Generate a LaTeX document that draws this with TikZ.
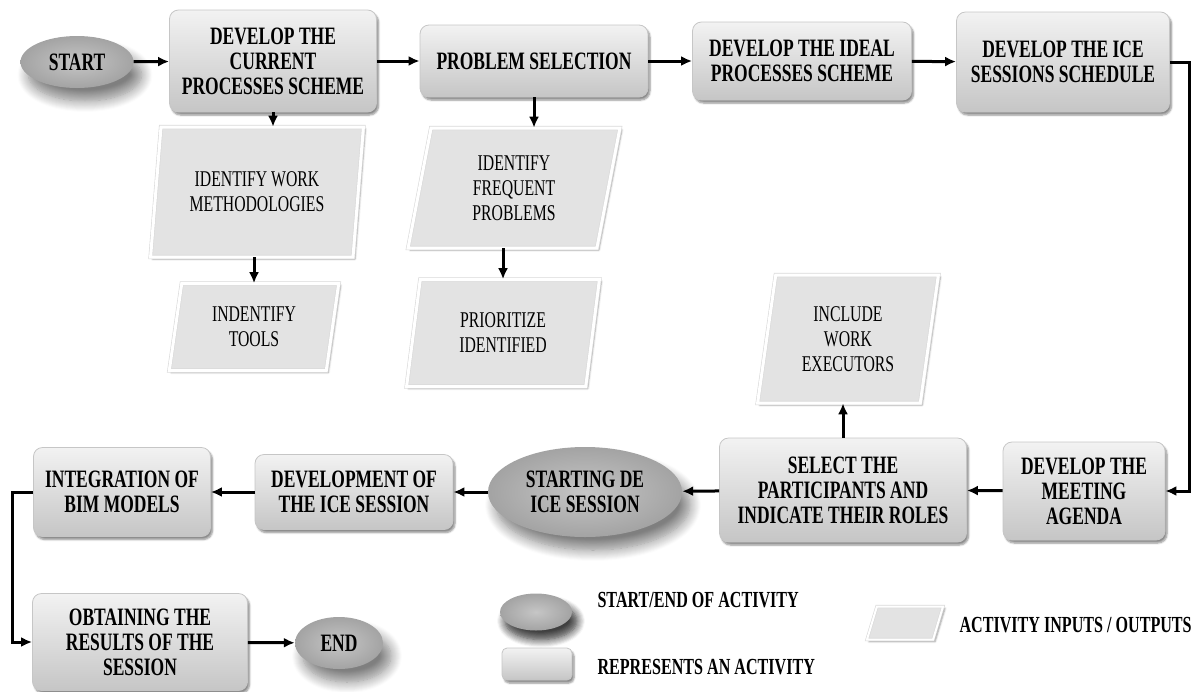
\documentclass[tikz,border=0pt]{standalone}
\usepackage{fontspec}
\setmainfont{Liberation Serif}[FakeStretch=0.70]
\usetikzlibrary{shapes.geometric,shadows,shadows.blur,arrows.meta}

\tikzset{
  activity/.style={rectangle,rounded corners=9pt,draw=gray!45,line width=.8pt,
    top color=gray!10,bottom color=gray!45,align=center,inner sep=2pt,
    font=\fontsize{25}{25}\selectfont\bfseries,
    blur shadow={shadow xshift=2pt,shadow yshift=-3pt,shadow blur steps=6,shadow opacity=45}},
  startend/.style={ellipse,inner color=gray!45,outer color=gray!72,align=center,inner sep=1pt,
    font=\fontsize{25}{25}\selectfont\bfseries,
    blur shadow={shadow xshift=8pt,shadow yshift=-13pt,shadow blur steps=12,shadow opacity=50,shadow blur radius=11pt}},
  inout/.style={trapezium,trapezium left angle=80,trapezium right angle=100,trapezium stretches=true,
    draw=gray!30,line width=.6pt,double=white,double distance=3pt,fill=gray!22,align=center,inner sep=1pt,
    font=\fontsize{22.5}{25}\selectfont,
    blur shadow={shadow xshift=2pt,shadow yshift=-2pt,shadow blur steps=4,shadow opacity=40}},
  legendtext/.style={anchor=west,font=\fontsize{23}{24}\selectfont\bfseries},
  flow/.style={-{Latex[length=11pt,width=10pt]},line width=3pt}
}

\begin{document}
\begin{tikzpicture}[x=1pt,y=-1pt]
  \useasboundingbox (0,0) rectangle (1199,691);

  % top row
  \node[startend,minimum width=113,minimum height=52] (start) at (77,62) {START};
  \node[activity,minimum width=207,minimum height=102] (current) at (273,61) {DEVELOP THE\\CURRENT\\PROCESSES SCHEME};
  \node[activity,minimum width=228,minimum height=72] (problem) at (534,61) {PROBLEM SELECTION};
  \node[activity,minimum width=219,minimum height=78] (ideal) at (802,61) {DEVELOP THE IDEAL\\PROCESSES SCHEME};
  \node[activity,minimum width=213,minimum height=100] (sched) at (1063,62) {DEVELOP THE ICE\\SESSIONS SCHEDULE};

  % inputs / outputs
  \node[inout,minimum width=213,minimum height=130] (work) at (257,192) {IDENTIFY WORK\\METHODOLOGIES};
  \node[inout,minimum width=170,minimum height=87] (tools) at (254,327) {INDENTIFY\\TOOLS};
  \node[inout,minimum width=212,minimum height=120] (freq) at (514,188) {IDENTIFY\\FREQUENT\\PROBLEMS};
  \node[inout,minimum width=193,minimum height=107] (prior) at (503,333) {PRIORITIZE\\IDENTIFIED};
  \node[inout,minimum width=181,minimum height=128] (execs) at (848,339) {INCLUDE\\WORK\\EXECUTORS};

  % bottom rows
  \node[activity,minimum width=162,minimum height=98] (agenda) at (1084,491) {DEVELOP THE\\MEETING\\AGENDA};
  \node[activity,minimum width=247,minimum height=104] (select) at (843,490) {SELECT THE\\PARTICIPANTS AND\\INDICATE THEIR ROLES};
  \node[startend,minimum width=194,minimum height=90] (starting) at (585,492) {STARTING DE\\ICE SESSION};
  \node[activity,minimum width=198,minimum height=75] (devel) at (354,492) {DEVELOPMENT OF\\THE ICE SESSION};
  \node[activity,minimum width=177,minimum height=89] (integ) at (122,492) {INTEGRATION OF\\BIM MODELS};
  \node[activity,minimum width=215,minimum height=97] (results) at (140,642) {OBTAINING THE\\RESULTS OF THE\\SESSION};
  \node[startend,minimum width=88,minimum height=52] (end) at (339,643) {END};

  % legend
  \node[startend,minimum width=72,minimum height=37,
    blur shadow={shadow xshift=5pt,shadow yshift=-9pt,shadow blur steps=8,shadow opacity=50,shadow blur radius=8pt}] (legend1) at (536,612) {};
  \node[legendtext] (legend1t) at (594,600) {START/END OF ACTIVITY};
  \node[activity,minimum width=70,minimum height=32,rounded corners=5pt] (legend2) at (537,664) {};
  \node[legendtext] (legend2t) at (594,667) {REPRESENTS AN ACTIVITY};
  \node[inout,minimum width=76,minimum height=33,double distance=2pt] (legend3) at (905,623) {};
  \node[legendtext] (legend3t) at (956,625) {ACTIVITY INPUTS / OUTPUTS};

  \draw[flow] (start) -- (current);
  \draw[flow] (current) -- (problem);
  \draw[flow] (problem) -- (ideal);
  \draw[flow] (ideal) -- (sched);
  \draw[flow] (sched.east) -- ++(20,0) |- (agenda.east);
  \draw[flow] (agenda) -- (select);
  \draw[flow] (select) -- (starting);
  \draw[flow] (starting) -- (devel);
  \draw[flow] (devel) -- (integ);
  \draw[flow] (integ.west) -- ++(-21,0) |- (results.west);
  \draw[flow] (results) -- (end);

  \draw[flow] (current.south) -- (current.south |- work.north);
  \draw[flow] (work.south -| tools.north) -- (tools.north);
  \draw[flow] (problem.south) -- (problem.south |- freq.north);
  \draw[flow] (freq.south -| prior.north) -- (prior.north);
  \draw[flow] (select.north) -- (select.north |- execs.south);
\end{tikzpicture}
\end{document}
